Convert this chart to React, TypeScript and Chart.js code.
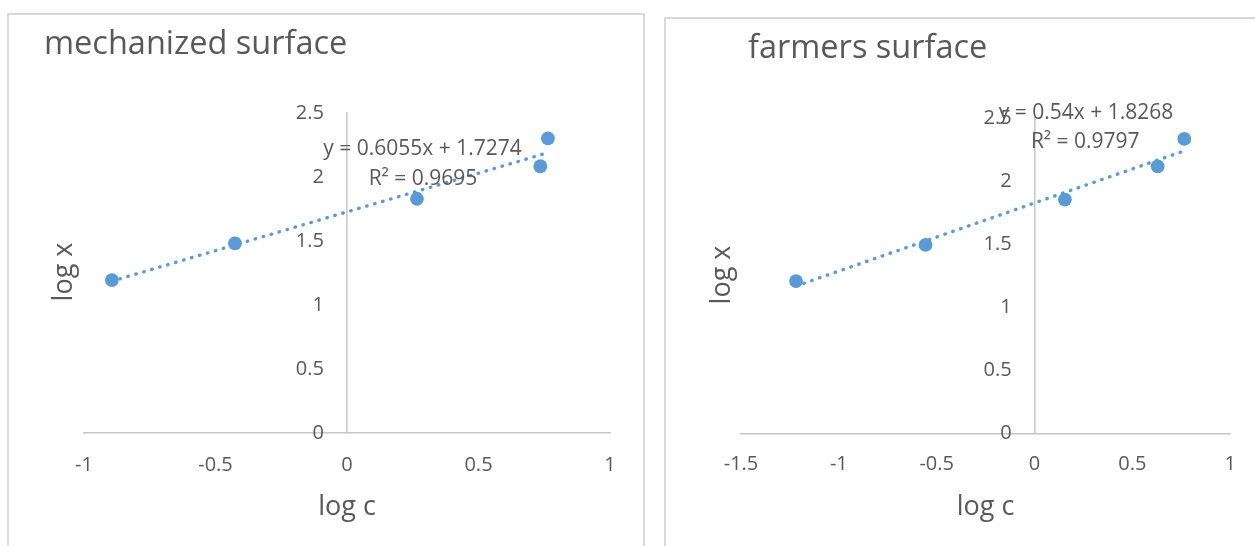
import React, { useEffect, useRef } from 'react';
import { Chart, registerables } from 'chart.js';

Chart.register(...registerables);

const FONT = "'Open Sans', sans-serif";
const TEXT = '#595959';
const AXIS = '#c6c6c6';
const MARK = '#5b9bd5';

// mechanized surface
const mechLogC = [-0.894, -0.426, 0.266, 0.735, 0.764];
const mechLogX = [1.195, 1.482, 1.83, 2.084, 2.302];
const mechSlope = 0.6055;
const mechIntercept = 1.7274;
const mechR2 = '0.9695';
const mechXTicks = [-1, -0.5, 0, 0.5, 1];

// farmers surface
const farmLogC = [-1.219, -0.557, 0.155, 0.629, 0.765];
const farmLogX = [1.208, 1.494, 1.854, 2.117, 2.334];
const farmSlope = 0.54;
const farmIntercept = 1.8268;
const farmR2 = '0.9797';
const farmXTicks = [-1.5, -1, -0.5, 0, 0.5, 1];

const yTicks = [0, 0.5, 1, 1.5, 2, 2.5];

type PanelCfg = {
  title: string;
  logC: number[];
  logX: number[];
  slope: number;
  intercept: number;
  r2: string;
  xTicks: number[];
  box: { left: number; top: number; width: number; height: number };
  canvas: { left: number; top: number; width: number; height: number };
  padding: { left: number; right: number; top: number };
  xAxisHeight: number;
  xTickPad: number;
  xTitlePad: number;
  yLabelGap: number;
  titlePos: [number, number];
  yTitlePos: [number, number];
  eqAt: [number, number];
  r2At: [number, number];
};

function Panel({ cfg }: { cfg: PanelCfg }) {
  const ref = useRef<HTMLCanvasElement | null>(null);
  useEffect(() => {
    if (!ref.current) return;
    const pts = cfg.logC.map((c, i) => ({ x: c, y: cfg.logX[i] }));
    const xmin = Math.min(...cfg.logC);
    const xmax = Math.max(...cfg.logC);
    const trend = [
      { x: xmin, y: cfg.slope * xmin + cfg.intercept },
      { x: xmax, y: cfg.slope * xmax + cfg.intercept },
    ];
    const labelPlugin = {
      id: 'labels',
      afterDraw(chart: any) {
        const ctx = chart.ctx;
        const sx = chart.scales.x;
        const sy = chart.scales.y;
        ctx.save();
        ctx.fillStyle = TEXT;
        ctx.textBaseline = 'alphabetic';
        ctx.textAlign = 'left';
        ctx.font = `32.5px ${FONT}`;
        ctx.fillText(cfg.title, cfg.titlePos[0], cfg.titlePos[1]);
        ctx.save();
        ctx.translate(cfg.yTitlePos[0], cfg.yTitlePos[1]);
        ctx.rotate(-Math.PI / 2);
        ctx.textAlign = 'center';
        ctx.textBaseline = 'middle';
        ctx.font = `27px ${FONT}`;
        ctx.fillText('log x', 0, 0);
        ctx.restore();
        ctx.textAlign = 'center';
        ctx.textBaseline = 'middle';
        ctx.font = `21px ${FONT}`;
        ctx.fillText(
          `y = ${cfg.slope}x + ${cfg.intercept}`,
          sx.getPixelForValue(cfg.eqAt[0]),
          sy.getPixelForValue(cfg.eqAt[1])
        );
        ctx.fillText(
          `R² = ${cfg.r2}`,
          sx.getPixelForValue(cfg.r2At[0]),
          sy.getPixelForValue(cfg.r2At[1])
        );
        ctx.restore();
      },
    };
    const chart = new Chart(ref.current, {
      type: 'scatter',
      data: {
        datasets: [
          {
            type: 'line',
            data: trend,
            borderColor: MARK,
            borderWidth: 3.4,
            borderDash: [0.5, 7.8],
            borderCapStyle: 'round',
            pointRadius: 0,
            fill: false,
            order: 1,
          } as any,
          {
            type: 'scatter',
            data: pts,
            pointRadius: 6.9,
            pointBackgroundColor: MARK,
            pointBorderWidth: 0,
            order: 2,
          } as any,
        ],
      },
      options: {
        animation: false,
        responsive: false,
        maintainAspectRatio: false,
        devicePixelRatio: 1,
        events: [],
        layout: {
          padding: { left: cfg.padding.left, right: cfg.padding.right, top: cfg.padding.top, bottom: 0 },
        },
        plugins: { legend: { display: false }, tooltip: { enabled: false }, title: { display: false } },
        scales: {
          x: {
            type: 'linear',
            position: 'bottom',
            min: cfg.xTicks[0],
            max: cfg.xTicks[cfg.xTicks.length - 1],
            grid: { display: false, drawTicks: false },
            border: { display: true, color: AXIS, width: 1.5 },
            ticks: {
              padding: cfg.xTickPad,
              font: { family: FONT, size: 20 },
              color: TEXT,
              maxRotation: 0,
              callback: (v: any) => String(v),
            },
            afterBuildTicks: (s: any) => {
              s.ticks = cfg.xTicks.map((v) => ({ value: v }));
            },
            afterFit: (s: any) => {
              s.height = cfg.xAxisHeight;
            },
            title: {
              display: true,
              text: 'log c',
              color: TEXT,
              font: { family: FONT, size: 27 },
              padding: { top: 0, bottom: cfg.xTitlePad },
            },
          },
          y: {
            type: 'linear',
            position: { x: 0 } as any,
            min: 0,
            max: 2.5,
            grid: { display: false, drawTicks: false },
            border: { display: true, color: AXIS, width: 1.5 },
            ticks: { display: false },
          },
          yl: {
            type: 'linear',
            position: { x: -cfg.yLabelGap } as any,
            min: 0,
            max: 2.5,
            grid: { display: false, drawTicks: false },
            border: { display: false },
            ticks: {
              font: { family: FONT, size: 20 },
              color: TEXT,
              callback: (v: any) => String(v),
            },
            afterBuildTicks: (s: any) => {
              s.ticks = yTicks.map((v) => ({ value: v }));
            },
          },
        },
      } as any,
      plugins: [labelPlugin],
    });
    return () => chart.destroy();
  }, [cfg]);
  return (
    <>
      <div
        style={{
          position: 'absolute',
          left: cfg.box.left,
          top: cfg.box.top,
          width: cfg.box.width,
          height: cfg.box.height,
          border: '2px solid #d9d9d9',
          boxSizing: 'border-box',
          background: '#fff',
        }}
      />
      <canvas
        ref={ref}
        width={cfg.canvas.width}
        height={cfg.canvas.height}
        style={{
          position: 'absolute',
          left: cfg.canvas.left,
          top: cfg.canvas.top,
          width: cfg.canvas.width,
          height: cfg.canvas.height,
        }}
      />
    </>
  );
}

const mechCfg: PanelCfg = {
  title: 'mechanized surface',
  logC: mechLogC,
  logX: mechLogX,
  slope: mechSlope,
  intercept: mechIntercept,
  r2: mechR2,
  xTicks: mechXTicks,
  box: { left: 7, top: 13, width: 638, height: 560 },
  canvas: { left: 9, top: 15, width: 634, height: 531 },
  padding: { left: 75, right: 33, top: 98 },
  xAxisHeight: 113,
  xTickPad: 20,
  xTitlePad: 22,
  yLabelGap: 0.088,
  titlePos: [35, 39],
  yTitlePos: [55, 257],
  eqAt: [0.287, 2.22],
  r2At: [0.289, 1.988],
};

const farmCfg: PanelCfg = {
  title: 'farmers surface',
  logC: farmLogC,
  logX: farmLogX,
  slope: farmSlope,
  intercept: farmIntercept,
  r2: farmR2,
  xTicks: farmXTicks,
  box: { left: 664, top: 17, width: 640, height: 560 },
  canvas: { left: 666, top: 19, width: 589, height: 527 },
  padding: { left: 75, right: 21, top: 99 },
  xAxisHeight: 112.5,
  xTickPad: 19,
  xTitlePad: 22,
  yLabelGap: 0.117,
  titlePos: [82, 39],
  yTitlePos: [56, 256],
  eqAt: [0.263, 2.542],
  r2At: [0.259, 2.311],
};

export default function App() {
  return (
    <div
      style={{
        position: 'absolute',
        left: 0,
        top: 0,
        width: 1255,
        height: 546,
        overflow: 'hidden',
        background: '#fff',
      }}
    >
      <Panel cfg={mechCfg} />
      <Panel cfg={farmCfg} />
    </div>
  );
}
